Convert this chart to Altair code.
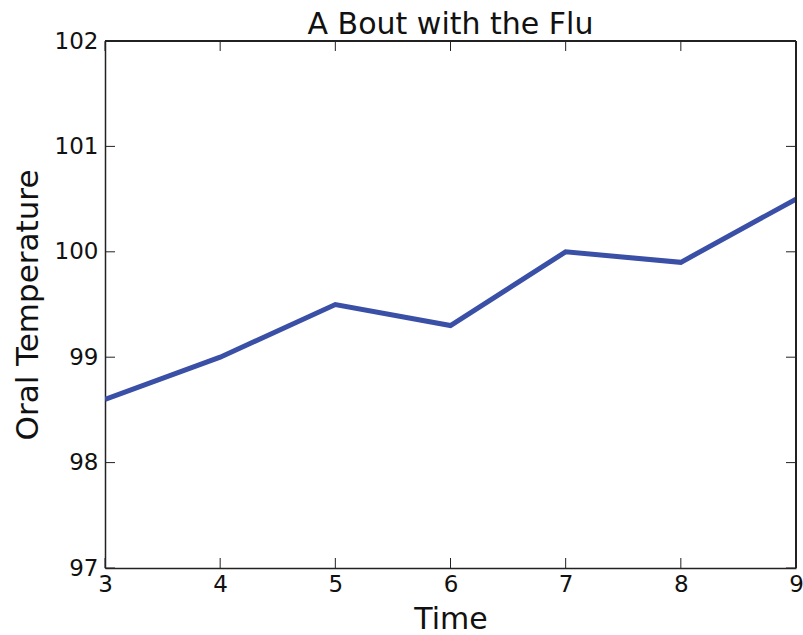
import altair as alt
import pandas as pd

time = [3, 4, 5, 6, 7, 8, 9]
temperature = [98.6, 99.0, 99.5, 99.3, 100.0, 99.9, 100.5]
x_ticks = [3, 4, 5, 6, 7, 8, 9]
y_ticks = [97, 98, 99, 100, 101, 102]

df = pd.DataFrame({"Time": time, "Temp": temperature})
xt = pd.DataFrame({"t": x_ticks})
yt = pd.DataFrame({"t": y_ticks})

W, H = 691, 527
FONT = "DejaVu Sans"

xscale = alt.Scale(domain=[3, 9], nice=False, zero=False)
yscale = alt.Scale(domain=[97, 102], nice=False, zero=False)

line = alt.Chart(df).mark_line(color="#3a4fa6", strokeWidth=5, clip=True).encode(
    x=alt.X("Time:Q", scale=xscale, title="Time",
            axis=alt.Axis(values=x_ticks, format="d", ticks=False, grid=False, domain=True,
                          domainColor="#222", domainWidth=1.5,
                          labelFont=FONT, labelFontSize=23, labelColor="#111",
                          labelPadding=5, labelFlush=False,
                          titleFont=FONT, titleFontSize=30, titleFontWeight="normal",
                          titleColor="#111", titlePadding=8)),
    y=alt.Y("Temp:Q", scale=yscale, title="Oral Temperature",
            axis=alt.Axis(values=y_ticks, format="d", ticks=False, grid=False, domain=True,
                          domainColor="#222", domainWidth=1.5,
                          labelFont=FONT, labelFontSize=23, labelColor="#111",
                          labelPadding=7, labelFlush=False,
                          titleFont=FONT, titleFontSize=31, titleFontWeight="normal",
                          titleColor="#111", titlePadding=10)),
)

tick_len = 10
xb = alt.Chart(xt).mark_rule(color="#222", strokeWidth=1).encode(
    x=alt.X("t:Q", scale=xscale), y=alt.value(H), y2=alt.value(H - tick_len))
xtp = alt.Chart(xt).mark_rule(color="#222", strokeWidth=1).encode(
    x=alt.X("t:Q", scale=xscale), y=alt.value(0), y2=alt.value(tick_len))
yl = alt.Chart(yt).mark_rule(color="#222", strokeWidth=1).encode(
    y=alt.Y("t:Q", scale=yscale), x=alt.value(0), x2=alt.value(tick_len))
yr = alt.Chart(yt).mark_rule(color="#222", strokeWidth=1).encode(
    y=alt.Y("t:Q", scale=yscale), x=alt.value(W), x2=alt.value(W - tick_len))
frame_top = alt.Chart(xt).mark_rule(color="#222", strokeWidth=1.5).encode(
    x=alt.value(0), x2=alt.value(W), y=alt.value(0))
frame_right = alt.Chart(xt).mark_rule(color="#222", strokeWidth=1.5).encode(
    x=alt.value(W), y=alt.value(0), y2=alt.value(H))

chart = alt.layer(line, xb, xtp, yl, yr, frame_top, frame_right).properties(
    width=W, height=H,
    title=alt.TitleParams("A Bout with the Flu", font=FONT, fontSize=30,
                          fontWeight="normal", color="#111", offset=-10),
    autosize=alt.AutoSizeParams(type="none"),
    padding={"left": 105, "top": 41, "right": 7, "bottom": 67},
    background="white",
).configure_view(stroke=None)

chart.save("out.html", embed_options={"renderer": "svg", "actions": False})
